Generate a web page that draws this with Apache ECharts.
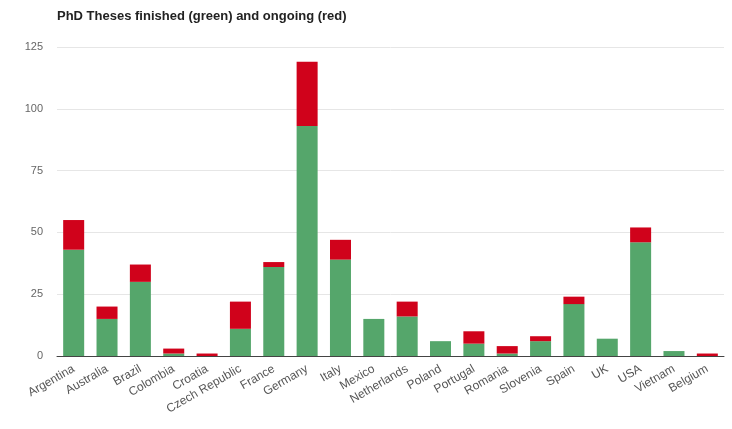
<!DOCTYPE html>
<html><head><meta charset="utf-8">
<script src="https://cdn.jsdelivr.net/npm/echarts@6/dist/echarts.min.js"></script>
<style>html,body{margin:0;padding:0;background:#fff}#c{width:732px;height:429px}</style>
</head><body><div id="c"></div>
<script>
const categories = ["Argentina","Australia","Brazil","Colombia","Croatia","Czech Republic","France","Germany","Italy","Mexico","Netherlands","Poland","Portugal","Romania","Slovenia","Spain","UK","USA","Vietnam","Belgium"];
const finished = [43,15,30,1,0,11,36,93,39,15,16,6,5,1,6,21,7,46,2,0];
const ongoing  = [12,5,7,2,1,11,2,26,8,0,6,0,5,3,2,3,0,6,0,1];
const yTicks = [0,25,50,75,100,125];

const chart = echarts.init(document.getElementById('c'));
chart.setOption({
  animation:false,
  title:{text:'PhD Theses finished (green) and ongoing (red)',left:52,top:5,
    textStyle:{fontSize:13,fontWeight:'bold',color:'#222',fontFamily:'Liberation Sans, Arial'}},
  grid:{left:57,right:8,top:47,bottom:73},
  xAxis:{type:'category',data:categories,
    axisLine:{lineStyle:{color:'#444'}},axisTick:{show:false},
    axisLabel:{rotate:30,interval:0,color:'#555',fontSize:12,margin:12,fontFamily:'Liberation Sans, Arial'}},
  yAxis:{type:'value',min:yTicks[0],max:yTicks[yTicks.length-1],interval:25,
    axisLine:{show:false},axisTick:{show:false},
    axisLabel:{color:'#666',fontSize:11,margin:14,fontFamily:'Liberation Sans, Arial'},
    splitLine:{lineStyle:{color:'#e6e6e6'}}},
  series:[
    {name:'finished',type:'bar',stack:'t',data:finished,barWidth:'63%',itemStyle:{color:'#55a66b'}},
    {name:'ongoing',type:'bar',stack:'t',data:ongoing,barWidth:'63%',itemStyle:{color:'#d0021b'}}
  ]
});
</script></body></html>
